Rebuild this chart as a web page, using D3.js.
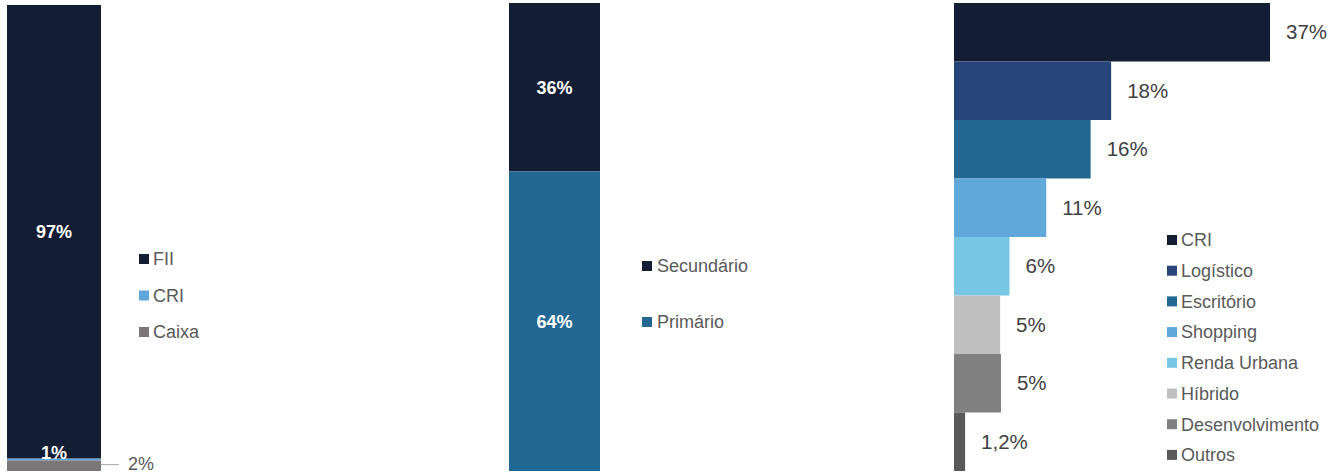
<!DOCTYPE html>
<html>
<head>
<meta charset="utf-8">
<script src="https://cdn.jsdelivr.net/npm/d3@7"></script>
<style>
  html, body { margin: 0; padding: 0; background: #ffffff; }
  svg { display: block; font-family: "Liberation Sans", Arial, sans-serif; }
</style>
</head>
<body>
<svg id="chart" width="1341" height="474"></svg>
<script>
// ---- Panel 1: composição da carteira ----
const p1Series = ["FII", "CRI", "Caixa"];
const p1Values = [97.3, 0.4, 2.3];
const p1Labels = ["97%", "1%", "2%"];
const p1Colors = ["#131e35", "#5ea6d9", "#7b7778"];

// ---- Panel 2: mercado ----
const p2Series = ["Secundário", "Primário"];
const p2Values = [36, 64];
const p2Labels = ["36%", "64%"];
const p2Colors = ["#131e35", "#236892"];

// ---- Panel 3: segmentos ----
const p3Categories = ["CRI", "Logístico", "Escritório", "Shopping", "Renda Urbana", "Híbrido", "Desenvolvimento", "Outros"];
const p3Values = [37, 18.4, 16.0, 10.8, 6.5, 5.4, 5.5, 1.3];
const p3Labels = ["37%", "18%", "16%", "11%", "6%", "5%", "5%", "1,2%"];
const p3Colors = ["#131e35", "#28457a", "#236892", "#60a8da", "#77c7e4", "#bfbfbf", "#808080", "#595959"];

const svg = d3.select("#chart");
const legendColor = "#595959";

function stackData(values) {
  let acc = 0;
  return values.map((v, i) => { const d = { i, y0: acc, y1: acc + v }; acc += v; return d; });
}

// ===== Panel 1 =====
{
  const x = d3.scaleBand().domain(["c"]).range([7, 101]).padding(0);
  const y = d3.scaleLinear().domain([0, 100]).range([471, 5]);
  const data = stackData(p1Values.slice().reverse()).map(d => ({ ...d, i: p1Values.length - 1 - d.i }));
  const g = svg.append("g");
  g.selectAll("rect").data(data).join("rect")
    .attr("x", x("c")).attr("width", x.bandwidth())
    .attr("y", d => y(d.y1)).attr("height", d => y(d.y0) - y(d.y1))
    .attr("fill", d => p1Colors[d.i]);
  const fii = data.find(d => d.i === 0);
  g.append("text").attr("x", x("c") + x.bandwidth() / 2).attr("y", (y(fii.y0) + y(fii.y1)) / 2)
    .attr("dy", "0.35em").attr("text-anchor", "middle").attr("fill", "#ffffff")
    .attr("font-weight", "bold").attr("font-size", 18).text(p1Labels[0]);
  const cri = data.find(d => d.i === 1);
  g.append("text").attr("x", x("c") + x.bandwidth() / 2).attr("y", y(cri.y1) - 6)
    .attr("dy", "0.35em").attr("text-anchor", "middle").attr("fill", "#ffffff")
    .attr("font-weight", "bold").attr("font-size", 18).text(p1Labels[1]);
  const cx = data.find(d => d.i === 2);
  const cy = (y(cx.y0) + y(cx.y1)) / 2 - 1;
  g.append("line").attr("x1", x("c") + x.bandwidth()).attr("x2", x("c") + x.bandwidth() + 18)
    .attr("y1", cy).attr("y2", cy).attr("stroke", "#a6a6a6").attr("stroke-width", 1);
  g.append("text").attr("x", x("c") + x.bandwidth() + 27).attr("y", cy - 1)
    .attr("dy", "0.35em").attr("fill", legendColor).attr("font-size", 18).text(p1Labels[2]);
  const lg = svg.append("g");
  p1Series.forEach((s, i) => {
    const ly = 259 + i * 36.5;
    lg.append("rect").attr("x", 139).attr("y", ly - 5).attr("width", 10).attr("height", 10).attr("fill", p1Colors[i]);
    lg.append("text").attr("x", 153).attr("y", ly).attr("dy", "0.35em")
      .attr("fill", legendColor).attr("font-size", 18).text(s);
  });
}

// ===== Panel 2 =====
{
  const x = d3.scaleBand().domain(["c"]).range([509, 600]).padding(0);
  const y = d3.scaleLinear().domain([0, 100]).range([3, 471]);
  const data = stackData(p2Values);
  const g = svg.append("g");
  g.selectAll("rect").data(data).join("rect")
    .attr("x", x("c")).attr("width", x.bandwidth())
    .attr("y", d => y(d.y0)).attr("height", d => y(d.y1) - y(d.y0))
    .attr("fill", d => p2Colors[d.i]);
  g.selectAll("text").data(data).join("text")
    .attr("x", x("c") + x.bandwidth() / 2).attr("y", d => (y(d.y0) + y(d.y1)) / 2)
    .attr("dy", "0.35em").attr("text-anchor", "middle").attr("fill", "#ffffff")
    .attr("font-weight", "bold").attr("font-size", 18).text(d => p2Labels[d.i]);
  const lg = svg.append("g");
  p2Series.forEach((s, i) => {
    const ly = 266 + i * 56;
    lg.append("rect").attr("x", 642).attr("y", ly - 5).attr("width", 10).attr("height", 10).attr("fill", p2Colors[i]);
    lg.append("text").attr("x", 657).attr("y", ly).attr("dy", "0.35em")
      .attr("fill", legendColor).attr("font-size", 18).text(s);
  });
}

// ===== Panel 3 =====
{
  const y = d3.scaleBand().domain(p3Categories).range([3, 471]).padding(0);
  const x = d3.scaleLinear().domain([0, 37]).range([954, 1270]);
  const data = p3Categories.map((c, i) => ({ c, i, v: p3Values[i] }));
  const g = svg.append("g");
  g.selectAll("rect").data(data).join("rect")
    .attr("x", x(0)).attr("y", d => y(d.c))
    .attr("width", d => x(d.v) - x(0)).attr("height", y.bandwidth())
    .attr("fill", d => p3Colors[d.i]);
  g.selectAll("text").data(data).join("text")
    .attr("x", d => x(d.v) + 16).attr("y", d => y(d.c) + y.bandwidth() / 2)
    .attr("dy", "0.35em").attr("fill", "#404040").attr("font-size", 20.5)
    .text(d => p3Labels[d.i]);
  const lg = svg.append("g");
  p3Categories.forEach((s, i) => {
    const ly = 240 + i * 30.7;
    lg.append("rect").attr("x", 1167).attr("y", ly - 5).attr("width", 10).attr("height", 10).attr("fill", p3Colors[i]);
    lg.append("text").attr("x", 1181).attr("y", ly).attr("dy", "0.35em")
      .attr("fill", legendColor).attr("font-size", 18).text(s);
  });
}
</script>
</body>
</html>
